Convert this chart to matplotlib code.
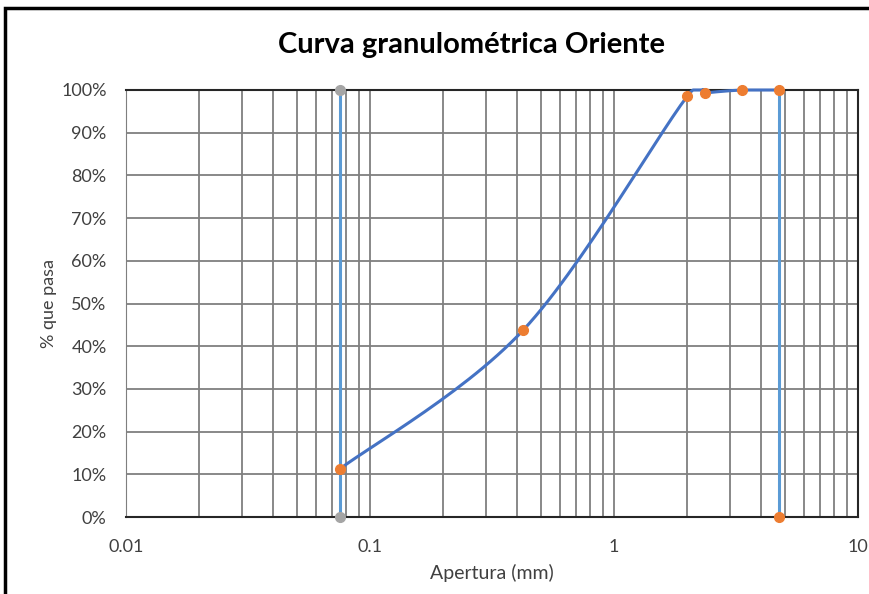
import numpy as np
import matplotlib.pyplot as plt
from matplotlib.patches import Rectangle
from matplotlib.ticker import FixedLocator, FuncFormatter

# datos de la curva granulométrica
apertura = [0.075, 0.425, 2.0, 2.36, 3.35, 4.75]
pasa = [11.2, 43.8, 98.6, 99.3, 100.0, 100.0]

# líneas verticales (límites)
lim_fino_x = [0.075, 0.075]
lim_fino_y = [0, 100]
lim_grueso_x = [4.75, 4.75]
lim_grueso_y = [100, 0]

plt.rcParams['font.family'] = ['Lato', 'DejaVu Sans']

fig = plt.figure(figsize=(8.7, 5.94), dpi=100)
ax = fig.add_axes([126 / 870, 1 - 517 / 594, 732 / 870, 427 / 594])

# curva suavizada (Catmull-Rom en espacio log)
lx = np.log10(apertura)
py = np.array(pasa)
sx, sy = [], []
n = len(lx)
for i in range(n - 1):
    p0 = (lx[max(i - 1, 0)], py[max(i - 1, 0)])
    p1 = (lx[i], py[i])
    p2 = (lx[i + 1], py[i + 1])
    p3 = (lx[min(i + 2, n - 1)], py[min(i + 2, n - 1)])
    for t in np.linspace(0, 1, 30):
        t2, t3 = t * t, t * t * t
        fx = 0.5 * (2 * p1[0] + (-p0[0] + p2[0]) * t + (2 * p0[0] - 5 * p1[0] + 4 * p2[0] - p3[0]) * t2 + (-p0[0] + 3 * p1[0] - 3 * p2[0] + p3[0]) * t3)
        fy = 0.5 * (2 * p1[1] + (-p0[1] + p2[1]) * t + (2 * p0[1] - 5 * p1[1] + 4 * p2[1] - p3[1]) * t2 + (-p0[1] + 3 * p1[1] - 3 * p2[1] + p3[1]) * t3)
        sx.append(10 ** fx)
        sy.append(min(fy, 100))

ax.plot(lim_fino_x, lim_fino_y, color='#5B9BD5', lw=2.2, zorder=3,
        marker='o', markersize=7, markerfacecolor='#A5A5A5', markeredgecolor='#A5A5A5', clip_on=False)
ax.plot(lim_grueso_x, lim_grueso_y, color='#5B9BD5', lw=2.2, zorder=3)
ax.plot(sx, sy, color='#4472C4', lw=2.2, zorder=4, clip_on=False)
ax.plot(apertura + [lim_grueso_x[1]], pasa + [lim_grueso_y[1]], ls='none', marker='o', markersize=7,
        color='#ED7D31', zorder=5, clip_on=False)

ax.set_xscale('log')
ax.set_xlim(0.01, 10)
ax.set_ylim(0, 100)
ax.set_yticks(np.arange(0, 101, 10))
ax.yaxis.set_major_formatter(FuncFormatter(lambda v, p: f'{int(v)}%'))
ax.xaxis.set_major_locator(FixedLocator([0.01, 0.1, 1, 10]))
ax.xaxis.set_major_formatter(FuncFormatter(lambda v, p: f'{v:g}'))
ax.xaxis.set_minor_locator(FixedLocator([m * d for d in (0.01, 0.1, 1) for m in range(2, 10)]))
ax.xaxis.set_minor_formatter(FuncFormatter(lambda v, p: ''))

ax.grid(True, which='both', axis='x', color='#7F7F7F', lw=1.3)
ax.grid(True, which='major', axis='y', color='#7F7F7F', lw=1.3)
ax.set_axisbelow(True)
ax.tick_params(which='both', length=0, labelsize=13, colors='#404040')
ax.tick_params(axis='x', pad=16)
ax.tick_params(axis='y', pad=14)
for s in ['top', 'right', 'bottom']:
    ax.spines[s].set_color('#262626')
    ax.spines[s].set_linewidth(1.5)
ax.spines['left'].set_color('#7F7F7F')

ax.set_xlabel('Apertura (mm)', fontsize=14, color='#404040', labelpad=6)
ax.set_ylabel('% que pasa', fontsize=13, color='#404040', labelpad=3)
fig.text(472 / 870, 1 - 45 / 594, 'Curva granulométrica Oriente', ha='center', va='center',
         fontsize=21, fontweight='bold', color='#000000')

# borde del gráfico
fig.patches.append(Rectangle((5 / 870, -0.1), 1.2, 1 - 8 / 594 + 0.1, transform=fig.transFigure,
                             fill=False, edgecolor='black', lw=2.5))

fig.savefig('out.png', dpi=100)
